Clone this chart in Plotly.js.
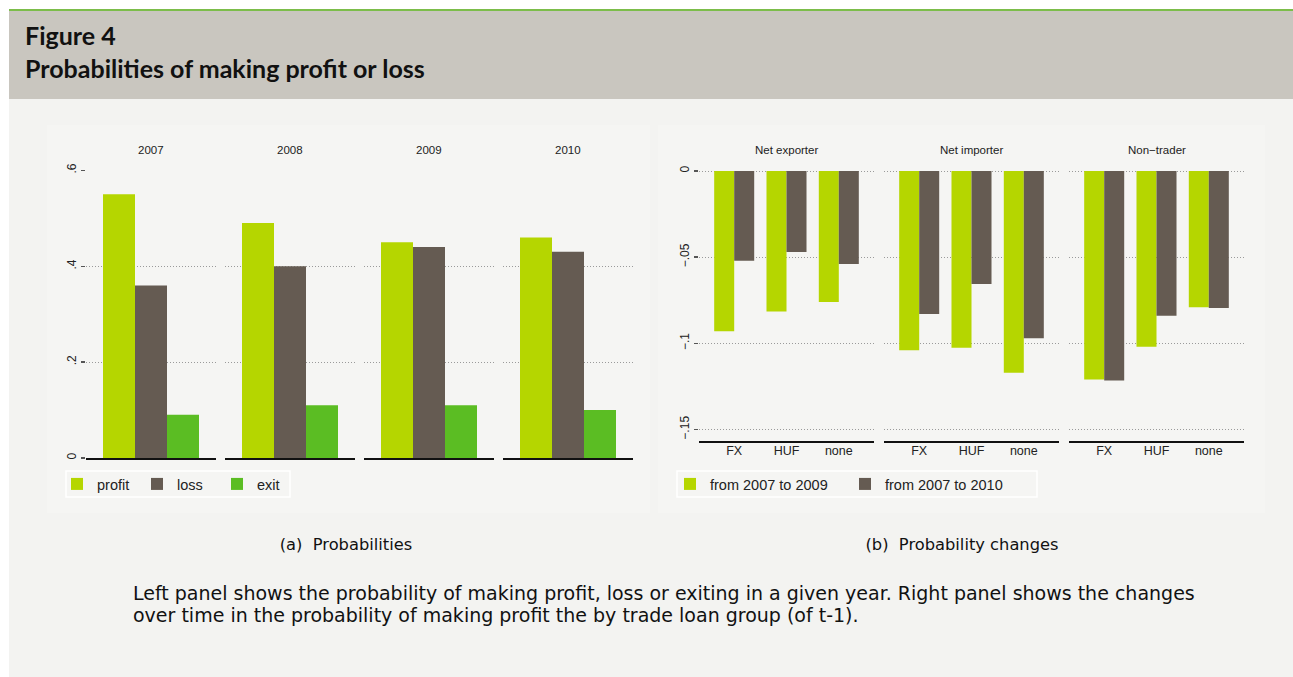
<!DOCTYPE html>
<html><head><meta charset="utf-8">
<script src="https://cdn.plot.ly/plotly-3.0.1.min.js"></script>
<style>
html,body{margin:0;padding:0;background:#ffffff;width:1293px;height:677px;overflow:hidden;}
#greenline{position:absolute;left:9px;top:9px;width:1284px;height:2px;background:#7cbd4a;}
#header{position:absolute;left:9px;top:11px;width:1284px;height:88px;background:#c9c6bf;}
#body{position:absolute;left:9px;top:99px;width:1284px;height:578px;background:#f3f3f1;}
.panel{position:absolute;top:125px;height:388px;background:#f5f5f3;}
.t{position:absolute;white-space:nowrap;font-family:"DejaVu Sans",Verdana,sans-serif;color:#111;}
.h{font-family:Lato,"Noto Sans",sans-serif;font-weight:bold;font-size:25px;line-height:30px;}
#fig{position:absolute;left:0;top:0;width:1293px;height:677px;}
</style></head>
<body>
<div id="greenline"></div>
<div id="header"></div>
<div id="body"></div>
<div class="panel" style="left:47px;width:603px;"></div>
<div class="panel" style="left:658px;width:607px;"></div>
<div class="t h" style="left:25px;top:20px;">Figure 4</div>
<div class="t h" style="left:25px;top:53px;">Probabilities of making profit or loss</div>
<div class="t" style="left:196px;width:300px;text-align:center;top:534.6px;font-size:16.3px;line-height:19.5px;">(a)&nbsp; Probabilities</div>
<div class="t" style="left:812px;width:300px;text-align:center;top:534.6px;font-size:16.3px;line-height:19.5px;">(b)&nbsp; Probability changes</div>
<div class="t" style="left:133px;top:582.4px;font-size:19px;line-height:22px;">Left panel shows the probability of making profit, loss or exiting in a given year. Right panel shows the changes<br>over time in the probability of making profit the by trade loan group (of t-1).</div>
<div id="fig"></div>
<script>
// ---- data ----
const years = ['2007', '2008', '2009', '2010'];
const profit = [0.55, 0.49, 0.45, 0.46];
const loss = [0.36, 0.40, 0.44, 0.43];
const exitP = [0.09, 0.11, 0.11, 0.10];
const leftTickVals = [0, 0.2, 0.4, 0.6];
const leftTickText = ['0', '.2', '.4', '.6'];

const groups = ['Net exporter', 'Net importer', 'Non\u2212trader'];
const loanTypes = ['FX', 'HUF', 'none'];
const change0709 = [[-0.093, -0.0815, -0.076], [-0.104, -0.1025, -0.117], [-0.121, -0.102, -0.079]];
const change0710 = [[-0.052, -0.047, -0.054], [-0.083, -0.0655, -0.097], [-0.1215, -0.084, -0.0795]];
const rightTickVals = [0, -0.05, -0.1, -0.15];
const rightTickText = ['0', '\u2212.05', '\u2212.1', '\u2212.15'];

// ---- styling ----
const W = 1293, H = 677;
const px = v => v / W;
const py = v => 1 - v / H;
const FONT = 'Liberation Sans, Arial, sans-serif';
const cLime = '#b5d600', cBrown = '#655b52', cGreen = '#5bbd23';
const gridCol = '#9a9a9a';

const traces = [];
const layout = {
  width: W, height: H, margin: {l: 0, r: 0, t: 0, b: 0},
  paper_bgcolor: 'rgba(0,0,0,0)', plot_bgcolor: 'rgba(0,0,0,0)',
  barmode: 'group', bargap: 0.235, bargroupgap: 0,
  font: {family: FONT, color: '#222'},
  annotations: [], showlegend: true,
  shapes: [
    {type: 'rect', xref: 'paper', yref: 'paper', x0: px(66), x1: px(290), y0: py(471), y1: py(497),
      line: {color: '#ffffff', width: 1.5}, fillcolor: 'rgba(0,0,0,0)', layer: 'below'},
    {type: 'rect', xref: 'paper', yref: 'paper', x0: px(677), x1: px(1037), y0: py(471), y1: py(497),
      line: {color: '#ffffff', width: 1.5}, fillcolor: 'rgba(0,0,0,0)', layer: 'below'}
  ],
  legend: {x: px(57), y: py(484), xanchor: 'left', yanchor: 'middle', orientation: 'h',
    bgcolor: 'rgba(0,0,0,0)', borderwidth: 0, entrywidth: 35, entrywidthmode: 'pixels',
    font: {size: 14.5, family: FONT, color: '#222'}, itemwidth: 30, traceorder: 'normal'},
  legend2: {x: px(670), y: py(484), xanchor: 'left', yanchor: 'middle', orientation: 'h',
    bgcolor: 'rgba(0,0,0,0)', borderwidth: 0, entrywidth: 130, entrywidthmode: 'pixels',
    font: {size: 14.5, family: FONT, color: '#222'}, itemwidth: 30, traceorder: 'normal'}
};

function axId(n) { return n === 1 ? '' : String(n); }

// left panel: 4 subplots
const leftStarts = [86, 225, 364, 503], leftW = 130;
years.forEach((yr, i) => {
  const n = i + 1, id = axId(n);
  const series = [['profit', profit, cLime], ['loss', loss, cBrown], ['exit', exitP, cGreen]];
  series.forEach(([name, arr, col]) => {
    traces.push({type: 'bar', name: name, x: [yr], y: [arr[i]], xaxis: 'x' + id, yaxis: 'y' + id,
      marker: {color: col, line: {width: 0}}, showlegend: i === 0, legend: 'legend', hoverinfo: 'y'});
  });
  layout['xaxis' + id] = {domain: [px(leftStarts[i]), px(leftStarts[i] + leftW)], anchor: 'y' + id,
    type: 'category', range: [-0.518, 0.518], showticklabels: false, ticks: '',
    showgrid: false, zeroline: false, showline: true, linecolor: '#111', linewidth: 1.5, fixedrange: true};
  layout['yaxis' + id] = {domain: [py(458), py(170)], anchor: 'x' + id, range: [0, 0.6008],
    tickvals: leftTickVals, ticktext: leftTickText, showticklabels: i === 0, ticks: i === 0 ? 'outside' : '',
    ticklen: 4, tickwidth: 1.5, tickcolor: '#555', tickangle: -90, tickfont: {size: 12, color: '#222'},
    showgrid: true, gridcolor: gridCol, griddash: '1px,2px', gridwidth: 1, zeroline: false, showline: false, fixedrange: true};
  layout.annotations.push({text: yr, x: px(leftStarts[i] + leftW / 2), y: py(150), xref: 'paper', yref: 'paper',
    showarrow: false, font: {size: 11.5, color: '#222'}, xanchor: 'center', yanchor: 'middle'});
});

// right panel: 3 subplots
const rightStarts = [699, 884, 1069], rightW = 175;
groups.forEach((g, j) => {
  const n = j + 5, id = axId(n);
  traces.push({type: 'bar', name: 'from 2007 to 2009', x: loanTypes, y: change0709[j], xaxis: 'x' + id, yaxis: 'y' + id,
    marker: {color: cLime, line: {width: 0}}, showlegend: j === 0, legend: 'legend2', hoverinfo: 'y'});
  traces.push({type: 'bar', name: 'from 2007 to 2010', x: loanTypes, y: change0710[j], xaxis: 'x' + id, yaxis: 'y' + id,
    marker: {color: cBrown, line: {width: 0}}, showlegend: j === 0, legend: 'legend2', hoverinfo: 'y'});
  layout['xaxis' + id] = {domain: [px(rightStarts[j]), px(rightStarts[j] + rightW)], anchor: 'y' + id,
    type: 'category', range: [-0.673, 2.673], ticks: '', ticklabelstandoff: -3, tickfont: {size: 12.5, color: '#222'},
    showgrid: false, zeroline: false, showline: true, linecolor: '#111', linewidth: 1.5, fixedrange: true};
  layout['yaxis' + id] = {domain: [py(441.3), py(170)], anchor: 'x' + id, range: [-0.1568, 0.0006],
    tickvals: rightTickVals, ticktext: rightTickText, showticklabels: j === 0, ticks: j === 0 ? 'outside' : '',
    ticklen: 4, tickwidth: 1.5, tickcolor: '#555', tickangle: -90, tickfont: {size: 12, color: '#222'},
    showgrid: true, gridcolor: gridCol, griddash: '1px,2px', gridwidth: 1, zeroline: false, showline: false, fixedrange: true};
  layout.annotations.push({text: g, x: px(rightStarts[j] + rightW / 2), y: py(150), xref: 'paper', yref: 'paper',
    showarrow: false, font: {size: 11.5, color: '#222'}, xanchor: 'center', yanchor: 'middle'});
});

Plotly.newPlot('fig', traces, layout, {displayModeBar: false, staticPlot: true});
</script>
</body></html>
